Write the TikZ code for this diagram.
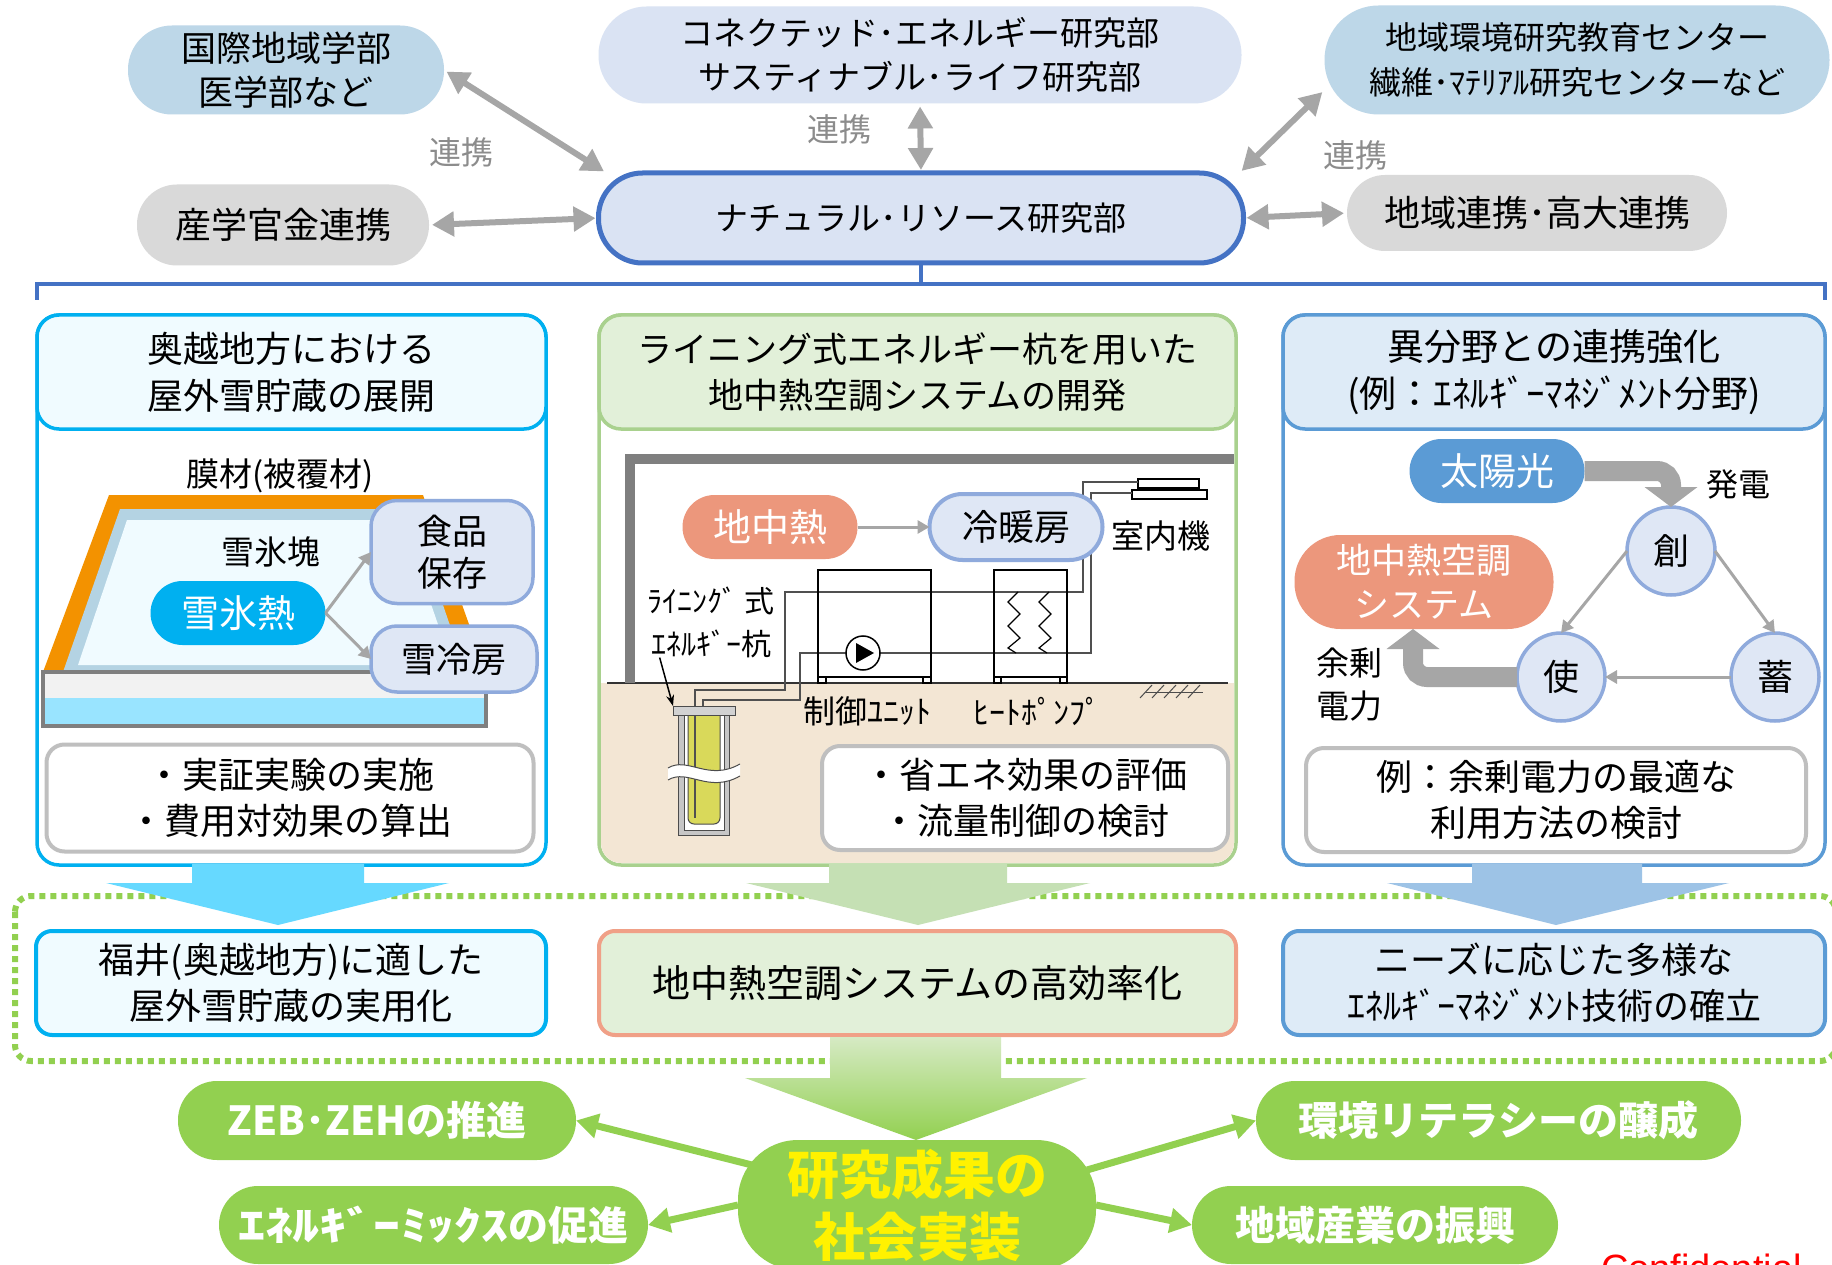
\documentclass[tikz,border=0pt]{standalone}
\usepackage{fontspec}
\setmainfont{Noto Sans CJK JP}
\newfontfamily\latinfont{Liberation Sans}
\usetikzlibrary{arrows.meta,calc}

\newcommand\fz[2]{\fontsize{#1}{#2}\selectfont}

\definecolor{arrowgray}{RGB}{166,166,166}
\definecolor{kokusaiC}{RGB}{189,215,232}
\definecolor{connectC}{RGB}{218,227,243}
\definecolor{grayD}{RGB}{217,217,217}
\definecolor{natB}{RGB}{68,114,196}
\definecolor{natF}{RGB}{218,227,243}
\definecolor{renkeiC}{RGB}{140,140,140}
\definecolor{cyanB}{RGB}{0,176,240}
\definecolor{cyanL}{RGB}{240,251,255}
\definecolor{greenB}{RGB}{169,209,142}
\definecolor{greenL}{RGB}{226,240,217}
\definecolor{blueB}{RGB}{91,155,213}
\definecolor{blueL}{RGB}{222,235,247}
\definecolor{boxG}{RGB}{191,191,191}
\definecolor{orangeC}{RGB}{243,146,0}
\definecolor{bandC}{RGB}{180,211,227}
\definecolor{slabG}{RGB}{242,242,242}
\definecolor{slabC}{RGB}{153,228,255}
\definecolor{slabB}{RGB}{127,127,127}
\definecolor{useF}{RGB}{223,231,245}
\definecolor{useB}{RGB}{143,170,220}
\definecolor{salmonC}{RGB}{236,151,124}
\definecolor{resB}{RGB}{240,160,135}
\definecolor{groundC}{RGB}{243,230,212}
\definecolor{wallC}{RGB}{127,127,127}
\definecolor{pipeC}{RGB}{80,80,80}
\definecolor{pileY}{RGB}{217,217,90}
\definecolor{arrCyan}{RGB}{102,217,255}
\definecolor{arrGreen}{RGB}{197,224,180}
\definecolor{arrBlue}{RGB}{157,195,230}
\definecolor{greenC}{RGB}{146,208,80}
\definecolor{gradTop}{RGB}{214,234,196}

\begin{document}
\begin{tikzpicture}[x=1pt,y=-1pt,
  every node/.style={inner sep=0pt,outer sep=0pt,align=center},
  dblarrow/.style={draw=arrowgray,line width=6pt,
    {Triangle[length=22pt,width=24pt]}-{Triangle[length=22pt,width=24pt]},
    shorten <=3pt,shorten >=3pt},
  thinarrow/.style={draw=arrowgray,line width=3pt,-{Triangle[length=12pt,width=13pt]}},
  bigarrow/.style={draw=arrowgray,line width=20pt,rounded corners=14,
    -{Triangle[length=20pt,width=52pt]}},
  greenarrow/.style={draw=greenC,line width=7pt,-{Triangle[length=22pt,width=24pt]}},
  panel/.style={fill=white,line width=3.5pt,rounded corners=22,minimum width=#1,minimum height=550},
  header/.style={line width=3.5pt,rounded corners=22,minimum width=#1,minimum height=114,anchor=north},
  notebox/.style={draw=boxG,fill=white,line width=4pt,rounded corners=18,font=\fz{36}{46}},
  result/.style={line width=4pt,rounded corners=16,minimum height=104},
  usebox/.style={fill=useF,draw=useB,line width=3.5pt},
  cyc/.style={circle,usebox,minimum size=88,font=\fz{36}{40}},
  bpill/.style={fill=greenC,text=white,font=\bfseries\fz{40}{48},minimum height=79,rounded corners=39},
  lbl/.style={font=\fz{32}{40}}
]
\useasboundingbox (0,0) rectangle (1832,1265);
\clip (0,0) rectangle (1832,1265);
\fill[white] (0,0) rectangle (1832,1265);

% ---------- organisations ----------
\node[fill=kokusaiC,rounded corners=44,minimum width=316,minimum height=89,font=\fz{35}{44}]
  (kokusai) at (286,70) {国際地域学部\\医学部など};
\node[fill=connectC,rounded corners=48,minimum width=643,minimum height=97,font=\fz{33}{44}]
  (connect) at (920,55) {コネクテッド･エネルギー研究部\\サスティナブル･ライフ研究部};
\node[fill=kokusaiC,rounded corners=54,minimum width=505,minimum height=109,font=\fz{32}{45}]
  (center) at (1577,60) {地域環境研究教育センター\\繊維･ﾏﾃﾘｱﾙ研究センターなど};
\node[fill=grayD,rounded corners=40,minimum width=292,minimum height=81,font=\fz{36}{44}]
  (sangaku) at (283,225) {産学官金連携};
\node[fill=natF,draw=natB,line width=5pt,rounded corners=44,minimum width=645,minimum height=90,font=\fz{33}{44}]
  (natural) at (921,218) {ナチュラル･リソース研究部};
\node[fill=grayD,rounded corners=38,minimum width=380,minimum height=76,font=\fz{36}{44}]
  (chiren) at (1537,213) {地域連携･高大連携};

\node[text=renkeiC,lbl] (rk1) at (461,152) {連携};
\node[text=renkeiC,lbl] (rk2) at (839,129) {連携};
\node[text=renkeiC,lbl] (rk3) at (1355,155) {連携};

\draw[dblarrow] (kokusai.east) -- ([xshift=8pt]natural.north west);
\draw[dblarrow] (connect.south) -- (natural.north);
\draw[dblarrow] ([yshift=-30pt]center.west) -- ([xshift=-4pt]natural.north east);
\draw[dblarrow] (sangaku.east) -- (natural.west);
\draw[dblarrow] (natural.east) -- (chiren.west);

% bracket under the research department
\coordinate (brk) at (921,284);
\draw[natB,line width=3.5pt] (37,300) -- (37,284) -- (1825,284) -- (1825,300);
\draw[natB,line width=3.5pt] (natural.south) -- (natural.south |- brk);

% ---------- panels ----------
\node[panel=509,draw=cyanB] (lp) at (291.5,590) {};
\node[panel=637,draw=greenB] (mp) at (917.5,590) {};
\node[panel=542,draw=blueB] (rp) at (1554,590) {};

% ground of the middle panel
\begin{scope}
  \clip[rounded corners=20] (601,317) rectangle (1234,863);
  \fill[groundC] (601,683) rectangle (1234,863);
\end{scope}

\node[header=509,draw=cyanB,fill=cyanL,font=\fz{36}{47}] (lph) at (lp.north) {奥越地方における\\屋外雪貯蔵の展開};
\node[header=637,draw=greenB,fill=greenL,font=\fz{35}{46}] (mph) at (mp.north) {ライニング式エネルギー杭を用いた\\地中熱空調システムの開発};
\node[header=542,draw=blueB,fill=blueL,font=\fz{37}{47}] (rph) at (rp.north) {異分野との連携強化\\(例：ｴﾈﾙｷﾞｰﾏﾈｼﾞﾒﾝﾄ分野)};

% ----- left panel: outdoor snow storage -----
\node[font=\fz{33}{40}] (maku) at (280,476) {膜材(被覆材)};
\fill[orangeC] (43,672) -- (109,495) -- (423,495) -- (486,672) -- cycle;
\fill[bandC] (63,672) -- (120,509) -- (410,509) -- (466,672) -- cycle;
\fill[cyanL] (78,665) -- (127,520) -- (402,520) -- (452,665) -- cycle;
\fill[slabG] (43,672) rectangle (486,698);
\fill[slabC] (43,698) rectangle (486,726);
\draw[slabB,line width=3.5pt] (43,672) rectangle (486,726);
\node[font=\fz{33}{40}] (yukikai) at (271,552) {雪氷塊};
\node[fill=cyanB,text=white,rounded corners=32,minimum width=175,minimum height=64,font=\fz{38}{44}]
  (snowheat) at (238,613) {雪氷熱};
\node[usebox,rounded corners=26,minimum width=162,minimum height=103,font=\fz{35}{42}]
  (food) at (452,552) {食品\\保存};
\node[usebox,rounded corners=26,minimum width=166,minimum height=66,font=\fz{35}{42}]
  (cool) at (454,659) {雪冷房};
\draw[thinarrow] (snowheat.east) -- (food.west);
\draw[thinarrow] (snowheat.east) -- (cool.west);
\node[notebox,minimum width=487,minimum height=107] (lbox) at (290,798) {・実証実験の実施\\・費用対効果の算出};

% ----- middle panel: energy pile system -----
\draw[black!80,line width=1.2pt] (607,683) -- (1228,683);
\foreach \hx in {1140,1152,1164,1176,1188}
  \draw[black!70,line width=1pt] (\hx,698) -- (\hx+12,685);
\draw[black!70,line width=1pt] (1146,692) -- (1203,692);

% indoor unit
\draw[black,line width=1.5pt] (1138,479) rectangle (1199,488);
\draw[black,line width=1.5pt] (1132,490) rectangle (1207,499);
% piping
\draw[pipeC,line width=1.5pt] (1138,482) -- (1083,482) -- (1083,592) -- (785,592) -- (785,690) -- (695,690) -- (695,818);
\draw[pipeC,line width=1.5pt] (1132,493) -- (1091,493) -- (1091,653) -- (800,653) -- (800,700) -- (703,700) -- (703,715);
% control unit and heat pump housings
\draw[black,line width=1.5pt] (818,570) rectangle (931,677);
\draw[black,line width=1.5pt] (818,677) rectangle (826,683) (923,677) rectangle (931,683);
\draw[black,line width=1.5pt] (994,570) rectangle (1067,677);
\draw[black,line width=1.5pt] (994,677) rectangle (1001,683) (1060,677) rectangle (1067,683);
\draw[black,line width=1.2pt] (1018,592) -- (1008,602) -- (1020,614) -- (1008,626) -- (1020,638) -- (1008,648) -- (1016,653);
\draw[black,line width=1.2pt] (1049,592) -- (1039,602) -- (1051,614) -- (1039,626) -- (1051,638) -- (1039,648) -- (1047,653);
% circulation pump
\node[circle,draw=black,fill=white,line width=1.5pt,minimum size=34] (pump) at (863,653) {};
\fill[black] (856,643) -- (874,653) -- (856,663) -- cycle;

% wall of the building
\draw[wallC,line width=10pt] (630,683) -- (630,459) -- (1234,459);

% energy pile
\fill[gray!45] (678,715) rectangle (729,835);
\draw[gray!60!black,line width=1pt] (678,715) rectangle (729,835);
\fill[white] (684,715) rectangle (724,830);
\draw[gray!60!black,line width=1pt] (684,715) rectangle (724,830);
\filldraw[fill=pileY,draw=gray!60!black,line width=1pt,rounded corners=6] (688,715) -- (688,824) -- (720,824) -- (720,715);
\draw[pipeC,line width=1.5pt] (695,715) -- (695,818);
\fill[white] (668,768) .. controls (688,756) and (708,782) .. (740,764) -- (740,776) .. controls (708,794) and (688,768) .. (668,780) -- cycle;
\draw[gray!60!black,line width=1pt] (668,768) .. controls (688,756) and (708,782) .. (740,764);
\draw[gray!60!black,line width=1pt] (668,780) .. controls (688,768) and (708,794) .. (740,776);
\node[draw=gray!60!black,fill=gray!35,line width=1pt,minimum width=62,minimum height=9] (pilecap) at (704,710.5) {};

\node[font=\fz{30}{43}] (pilelbl) at (711,622) {ﾗｲﾆﾝｸﾞ 式\\ｴﾈﾙｷﾞｰ杭};
\draw[black,line width=1.5pt,-{Stealth[length=11pt,width=8pt]}] ([xshift=12pt]pilelbl.south west) -- (pilecap.north west);
\node[font=\fz{32}{40}] (culbl) at (867,711) {制御ﾕﾆｯﾄ};
\node[font=\fz{32}{40}] (hplbl) at (1037,711) {ﾋｰﾄﾎﾟﾝﾌﾟ};

\node[fill=salmonC,text=white,rounded corners=32,minimum width=175,minimum height=64,font=\fz{38}{44}]
  (geo) at (770,527) {地中熱};
\node[usebox,line width=4pt,rounded corners=33,minimum width=173,minimum height=66,font=\fz{36}{44}]
  (hvac) at (1016,527) {冷暖房};
\draw[thinarrow] (geo.east) -- (hvac.west);
\node[font=\fz{33}{40}] (indoor) at (1161,536) {室内機};

\node[notebox,minimum width=406,minimum height=104] (mbox) at (1025,798) {・省エネ効果の評価\\・流量制御の検討};

% ----- right panel: energy management -----
\node[fill=blueB,text=white,rounded corners=32,minimum width=175,minimum height=64,font=\fz{38}{44}]
  (solar) at (1497,471) {太陽光};
\node[cyc] (sou) at (1671,551) {創};
\node[cyc] (shi) at (1561,677) {使};
\node[cyc] (chiku) at (1775,677) {蓄};
\node[font=\fz{32}{40}] (hatsuden) at (1738,484) {発電};
\node[fill=salmonC,text=white,rounded corners=46,minimum width=259,minimum height=94,font=\fz{35}{44}]
  (gshp) at (1424,582) {地中熱空調\\システム};
\node[font=\fz{33}{43}] (yojo) at (1349,685) {余剰\\電力};
\draw[bigarrow] (solar.east) -| (sou.north);
\draw[bigarrow] (shi.west) -| ([xshift=-11pt]gshp.south);
\draw[thinarrow] (sou.west) -- (shi.north);
\draw[thinarrow] (sou.east) -- (chiku.north);
\draw[thinarrow] (chiku.west) -- (shi.east);
\node[notebox,minimum width=500,minimum height=104] (rbox) at (1556,800) {例：余剰電力の最適な\\利用方法の検討};

% ---------- outcomes ----------
\draw[greenC,line width=6pt,dash pattern=on 6pt off 5pt,rounded corners=16] (15,896) rectangle (1836,1061);

\fill[arrCyan] (192,864) -- (364,864) -- (364,883) -- (449,883) -- (278,925) -- (106,883) -- (192,883) -- cycle;
\fill[arrGreen] (829,864) -- (1007,864) -- (1007,883) -- (1090,883) -- (918,925) -- (746,883) -- (829,883) -- cycle;
\fill[arrBlue] (1472,864) -- (1642,864) -- (1642,883) -- (1729,883) -- (1556,925) -- (1387,883) -- (1472,883) -- cycle;

\node[result,draw=cyanB,fill=cyanL,minimum width=510,font=\fz{36}{46}] (lres) at (291,983) {福井(奥越地方)に適した\\屋外雪貯蔵の実用化};
\node[result,draw=resB,fill=greenL,minimum width=637,font=\fz{38}{46}] (mres) at (917.5,983) {地中熱空調システムの高効率化};
\node[result,draw=blueB,fill=blueL,minimum width=542,font=\fz{36}{46}] (rres) at (1554,983) {ニーズに応じた多様な\\ｴﾈﾙｷﾞｰﾏﾈｼﾞﾒﾝﾄ技術の確立};

\shade[top color=gradTop,bottom color=greenC] (830,1037) -- (1001,1037) -- (1001,1078) -- (1087,1078) -- (916,1140) -- (745,1078) -- (830,1078) -- cycle;

% ---------- social implementation ----------
\node[bpill,minimum width=398] (zeb) at (377,1120.5) {ZEB･ZEHの推進};
\node[bpill,minimum width=429,minimum height=78] (mix) at (433.5,1225) {\scalebox{1.35}[1]{ｴﾈﾙｷﾞｰﾐｯｸｽ}の促進};
\node[bpill,minimum width=485] (kankyo) at (1498.5,1120.5) {環境リテラシーの醸成};
\node[bpill,minimum width=366,minimum height=78] (sangyo) at (1375,1225) {地域産業の振興};
\node[fill=greenC,text=yellow,rounded corners=60,minimum width=358,minimum height=130,font=\bfseries\fz{52}{62}]
  (kenkyu) at (917,1205) {研究成果の\\社会実装};

\draw[greenarrow] ([xshift=14pt,yshift=40pt]kenkyu.west) -- (zeb.east);
\draw[greenarrow] (kenkyu.west) -- (mix.east);
\draw[greenarrow] ([xshift=-9pt,yshift=35pt]kenkyu.east) -- (kankyo.west);
\draw[greenarrow] (kenkyu.east) -- (sangyo.west);

\node[text=red,font=\latinfont\fz{38}{44},anchor=base west] (conf) at (1601,1281) {Confidential};
\end{tikzpicture}
\end{document}
